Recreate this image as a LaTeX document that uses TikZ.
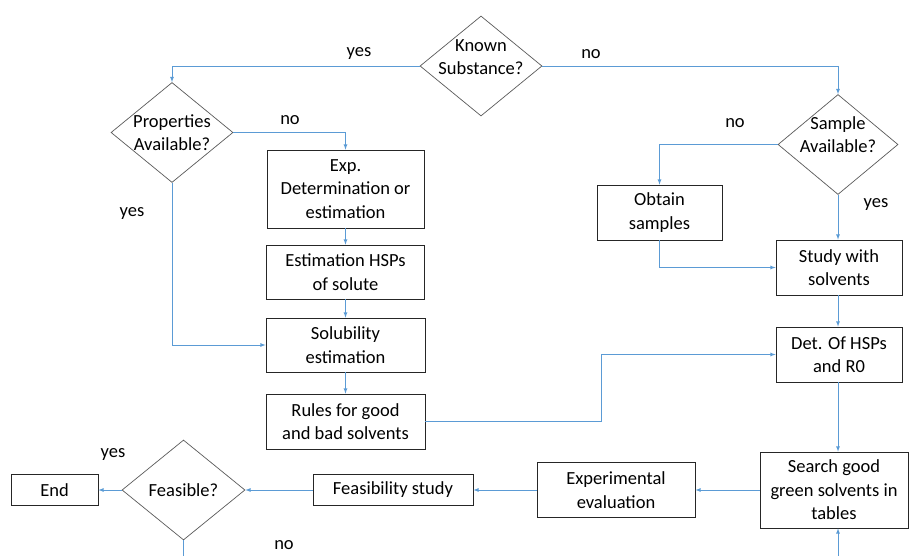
\documentclass[tikz,border=0pt]{standalone}
\usepackage{fontspec}
\setmainfont{Carlito}
\usetikzlibrary{shapes.geometric}
\definecolor{flowblue}{RGB}{91,155,213}
\definecolor{rimgray}{RGB}{89,89,89}
\tikzset{
	box/.style={draw=black!85,line width=.8pt,align=center,inner sep=2pt},
	decision/.style={diamond,draw=rimgray,line width=.7pt,align=center,inner sep=-10pt,minimum width=122pt,minimum height=100pt},
	flow/.style={->,draw=flowblue,line width=.8pt},
	answer/.style={inner sep=0pt}
}
\begin{document}
\begin{tikzpicture}[>=latex,x=1pt,y=-1pt,font=\fontsize{18.5}{23.5}\selectfont]
	\useasboundingbox (0,0) rectangle (909,556);
	% decisions
	\node[decision] (known) at (481,66) {Known\\Substance?\\[-6pt]};
	\node[decision] (prop) at (172,132.5) {Properties\\Available?};
	\node[decision,minimum width=120pt] (sample) at (838,144.5) {Sample\\Available?\\[-4pt]};
	\node[decision,minimum width=123pt] (feasible) at (183.5,490) {Feasible?};
	% left branch
	\node[box,minimum width=157pt,minimum height=78pt] (exp) at (345.5,189) {Exp.\\Determination or\\estimation};
	\node[box,minimum width=158pt,minimum height=54pt] (esthsp) at (345.5,272) {Estimation HSPs\\of solute};
	\node[box,minimum width=159pt,minimum height=54pt] (solub) at (345.5,345) {Solubility\\estimation};
	\node[box,minimum width=159pt,minimum height=55pt] (rules) at (345.5,421.5) {Rules for good\\and bad solvents};
	% right branch
	\node[box,minimum width=125pt,minimum height=55pt] (obtain) at (659.5,212.5) {Obtain\\samples};
	\node[box,minimum width=126pt,minimum height=55pt] (study) at (839,267.5) {Study with\\solvents};
	\node[box,minimum width=126pt,minimum height=55pt] (det) at (839,354.5) {Det. Of HSPs\\and R0};
	\node[box,minimum width=148pt,minimum height=76pt] (search) at (834,490) {Search good\\green solvents in\\tables};
	% bottom row
	\node[box,minimum width=158pt,minimum height=55pt] (experim) at (616,490) {Experimental\\evaluation};
	\node[box,minimum width=160pt,minimum height=31pt] (feas) at (393,490) {Feasibility study};
	\node[box,minimum width=87pt,minimum height=31pt] (endbox) at (54.5,490) {End};
	% answers
	\node[answer] (yesknown) at (359,54) {yes};
	\node[answer] (noknown) at (591,54) {no};
	\node[answer] (noprop) at (290,120) {no};
	\node[answer] (yesprop) at (132,214) {yes};
	\node[answer] (nosample) at (735,123) {no};
	\node[answer] (yessample) at (876,205) {yes};
	\node[answer] (yesfeas) at (113,455) {yes};
	\node[answer] (nofeas) at (284,545) {no};
	\coordinate (loopin) at (838,556);
	\coordinate (loopout) at (183.5,556);
	% connectors
	\draw[flow] (known.west) -| (prop.north);
	\draw[flow] (known.east) -| (sample.north);
	\draw[flow] (prop.east) -| (exp.north);
	\draw[flow] (exp) -- (esthsp);
	\draw[flow] (esthsp) -- (solub);
	\draw[flow] (solub) -- (rules);
	\draw[flow] (prop.south) |- (solub.west);
	\draw[flow] (rules.east) -- ++(176,0) |- (det.west);
	\draw[flow] (sample.west) -| (obtain.north);
	\draw[flow] (sample.south) -- (sample.south |- study.north);
	\draw[flow] (obtain.south) |- (study.west);
	\draw[flow] (sample.south |- study.south) -- (sample.south |- det.north);
	\draw[flow] (sample.south |- det.south) -- (sample.south |- search.north);
	\draw[flow] (loopin) -- (loopin |- search.south);
	\draw[flow] (search.west) -- (experim.east);
	\draw[flow] (experim.west) -- (feas.east);
	\draw[flow] (feas.west) -- (feasible.east);
	\draw[flow] (feasible.west) -- (endbox.east);
	\draw[flowblue,line width=.8pt] (feasible.south) -- (loopout);
\end{tikzpicture}
\end{document}
